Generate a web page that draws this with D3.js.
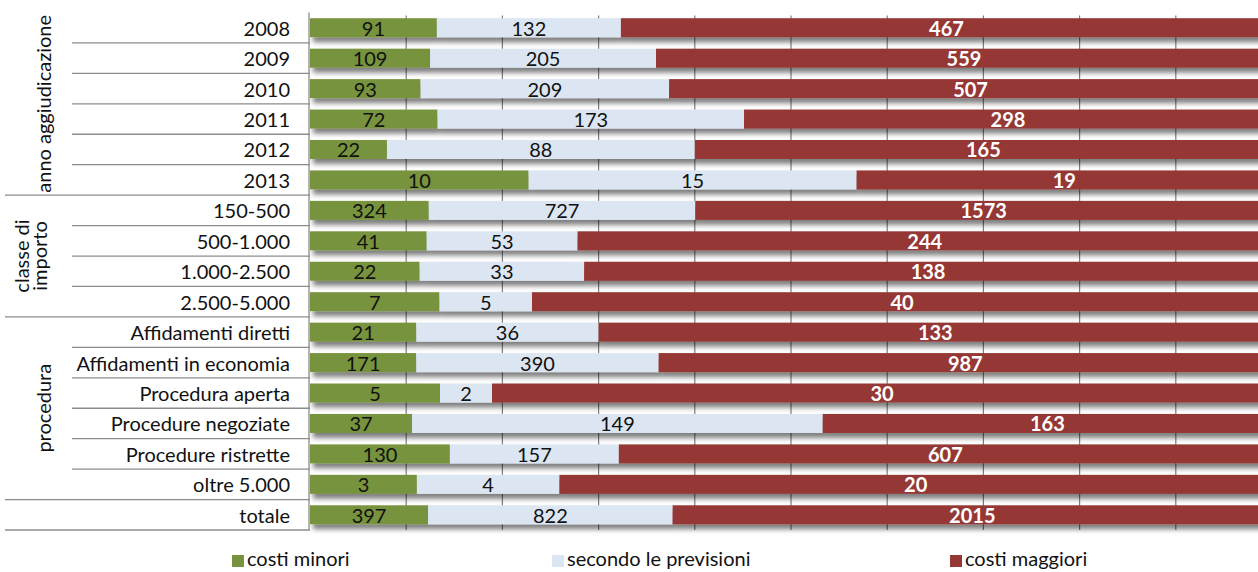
<!DOCTYPE html>
<html>
<head>
<meta charset="utf-8">
<script src="https://cdn.jsdelivr.net/npm/d3@7"></script>
<style>
  html, body { margin: 0; padding: 0; background: #fff; }
  svg { display: block; }
  text { font-family: Lato, "Open Sans", sans-serif; }
</style>
</head>
<body>
<svg id="chart" width="1258" height="572"></svg>
<script>
const categories = ["2008","2009","2010","2011","2012","2013",
  "150-500","500-1.000","1.000-2.500","2.500-5.000",
  "Affidamenti diretti","Affidamenti in economia","Procedura aperta","Procedure negoziate","Procedure ristrette","oltre 5.000",
  "totale"];
const costiMinori       = [91,109,93,72,22,10, 324,41,22,7, 21,171,5,37,130,3, 397];
const secondoPrevisioni = [132,205,209,173,88,15, 727,53,33,5, 36,390,2,149,157,4, 822];
const costiMaggiori     = [467,559,507,298,165,19, 1573,244,138,40, 133,987,30,163,607,20, 2015];
const seriesNames = ["costi minori","secondo le previsioni","costi maggiori"];
const seriesColors = ["#77933C","#DCE6F2","#953735"];
const labelColors = ["#111","#111","#fff"];
const groupLabels = [["anno aggiudicazione"],["classe di","importo"],["procedura"],[""]];
const groupRows = [[0,5],[6,9],[10,15],[16,16]];
const xTicks = [0,0.1,0.2,0.3,0.4,0.5,0.6,0.7,0.8,0.9,1];

const FS = 20;
const svg = d3.select("#chart");
const plotLeft = 310, plotRight = 1272, plotTop = 12.5, plotBottom = 530;

const x = d3.scaleLinear().domain([0,1]).range([plotLeft, plotRight]);
const y = d3.scaleBand().domain(categories).range([plotTop, plotBottom])
  .paddingInner(0.376).paddingOuter(0.188);
const step = y.step();

const defs = svg.append("defs");
const f = defs.append("filter").attr("id","shadow").attr("x","-5%").attr("y","-50%").attr("width","115%").attr("height","250%");
f.append("feDropShadow").attr("dx",3).attr("dy",5).attr("stdDeviation",2.6)
  .attr("flood-color","#000").attr("flood-opacity",0.5);

// gridlines
svg.append("g").selectAll("line").data(xTicks.slice(1)).join("line")
  .attr("x1", d => x(d)).attr("x2", d => x(d))
  .attr("y1", plotTop + 3).attr("y2", plotBottom)
  .attr("stroke", "#7f7f7f").attr("stroke-width", 1.2);

// stacked data
const rows = categories.map((c,i) => {
  const vals = [costiMinori[i], secondoPrevisioni[i], costiMaggiori[i]];
  const tot = d3.sum(vals);
  let acc = 0;
  return {cat: c, segs: vals.map((v,k) => { const s = {k, v, x0: acc/tot, x1: (acc+v)/tot}; acc += v; return s; })};
});

const rowG = svg.append("g").selectAll("g").data(rows).join("g")
  .attr("filter","url(#shadow)");
rowG.selectAll("rect").data(d => d.segs.map(s => ({...s, cat: d.cat}))).join("rect")
  .attr("x", d => x(d.x0)).attr("width", d => x(d.x1) - x(d.x0))
  .attr("y", d => y(d.cat)).attr("height", y.bandwidth())
  .attr("fill", d => seriesColors[d.k]);

// value labels
const lab = svg.append("g");
rows.forEach(r => {
  lab.selectAll(null).data(r.segs).enter().append("text")
    .attr("x", d => (x(d.x0) + x(d.x1)) / 2)
    .attr("y", y(r.cat) + y.bandwidth()/2)
    .attr("dominant-baseline","central")
    .attr("text-anchor","middle")
    .attr("font-size", FS)
    .attr("font-weight", d => d.k === 2 ? 700 : 400)
    .attr("fill", d => labelColors[d.k])
    .text(d => d.v);
});

// category axis
const cat = svg.append("g");
cat.selectAll("text").data(categories).join("text")
  .attr("x", 290).attr("y", d => y(d) + y.bandwidth()/2)
  .attr("dominant-baseline","central").attr("text-anchor","end")
  .attr("font-size", FS).attr("fill","#111").text(d => d);

// separators
const groupEnds = new Set(groupRows.map(g => g[1]));
categories.forEach((c,i) => {
  const yy = plotTop + step*(i+1);
  cat.append("line").attr("x1", groupEnds.has(i) ? 5 : 72).attr("x2", plotLeft)
    .attr("y1", yy).attr("y2", yy).attr("stroke","#8c8c8c").attr("stroke-width",1.3);
});
cat.append("line").attr("x1", plotLeft - 1).attr("x2", plotLeft - 1)
  .attr("y1", plotTop).attr("y2", plotBottom).attr("stroke","#8c8c8c").attr("stroke-width",1.3);

// group labels
groupRows.forEach((g,gi) => {
  const lines = groupLabels[gi];
  if (!lines[0]) return;
  const cy = (plotTop + step*g[0] + plotTop + step*(g[1]+1)) / 2;
  const n = lines.length;
  lines.forEach((t,li) => {
    const cx = n === 1 ? 43 : 21 + li*18;
    svg.append("text").attr("transform", `translate(${cx},${cy}) rotate(-90)`)
      .attr("text-anchor","middle").attr("dominant-baseline","central")
      .attr("font-size", FS).attr("fill","#111").text(t);
  });
});

// legend
const legendX = [232, 552, 950];
const leg = svg.append("g");
seriesNames.forEach((n,i) => {
  leg.append("rect").attr("x", legendX[i]).attr("y", 555).attr("width", 12).attr("height", 12)
    .attr("fill", seriesColors[i]);
  leg.append("text").attr("x", legendX[i] + 15).attr("y", 566)
    .attr("font-size", FS).attr("fill","#111").text(n);
});
</script>
</body>
</html>
